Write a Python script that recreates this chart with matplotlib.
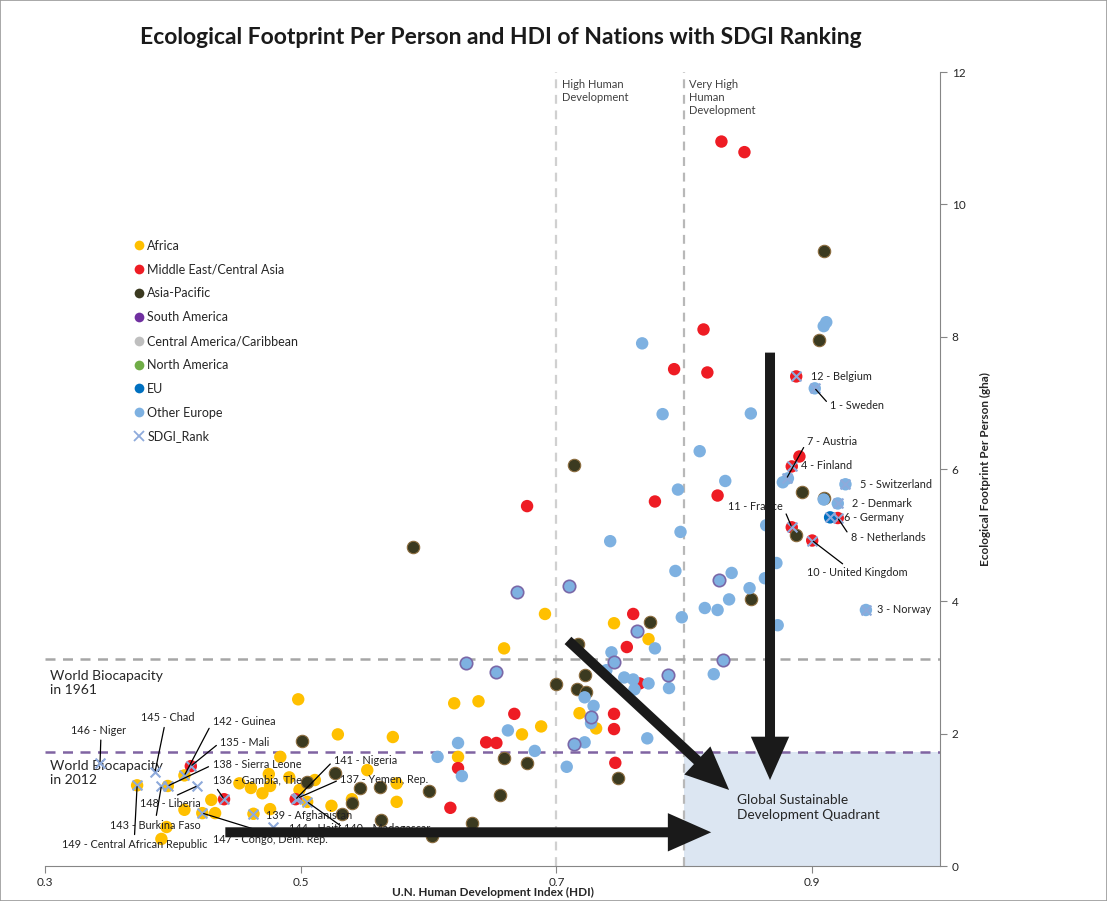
import matplotlib.pyplot as plt
from matplotlib.lines import Line2D
from matplotlib.patches import Rectangle

plt.rcParams['font.family'] = ['Lato', 'DejaVu Sans']

# ---- data (HDI, footprint in gha) ----
africa_hdi = [0.691, 0.659, 0.745, 0.772, 0.620, 0.639, 0.718, 0.688, 0.673, 0.731,
              0.498, 0.529, 0.572, 0.484, 0.552, 0.623, 0.475, 0.491, 0.452, 0.461,
              0.476, 0.470, 0.499, 0.511, 0.575, 0.540, 0.430, 0.524, 0.575, 0.476,
              0.433, 0.409, 0.395, 0.391,
              0.372, 0.409, 0.396, 0.423, 0.463, 0.505]
africa_ef = [3.81, 3.29, 3.67, 3.43, 2.46, 2.49, 2.31, 2.11, 1.99, 2.08,
             2.52, 1.99, 1.95, 1.65, 1.45, 1.65, 1.39, 1.34, 1.25, 1.18,
             1.21, 1.10, 1.15, 1.30, 1.25, 1.01, 1.00, 0.91, 0.97, 0.86,
             0.80, 0.85, 0.59, 0.41,
             1.22, 1.37, 1.21, 0.80, 0.79, 0.97]

mideast_hdi = [0.829, 0.847, 0.815, 0.792, 0.818, 0.890, 0.677, 0.777, 0.826, 0.760,
               0.755, 0.765, 0.745, 0.745, 0.667, 0.645, 0.653, 0.746, 0.617, 0.623,
               0.8875, 0.884, 0.920, 0.884, 0.900, 0.414, 0.440, 0.496]
mideast_ef = [10.95, 10.79, 8.11, 7.51, 7.46, 6.19, 5.44, 5.51, 5.60, 3.81,
              3.31, 2.76, 2.30, 2.07, 2.30, 1.87, 1.86, 1.56, 0.88, 1.48,
              7.40, 6.04, 5.26, 5.12, 4.92, 1.51, 1.01, 1.01]

asia_hdi = [0.909, 0.905, 0.892, 0.909, 0.887, 0.852, 0.714, 0.588, 0.773, 0.717,
            0.700, 0.722, 0.716, 0.723, 0.659, 0.677, 0.748, 0.501, 0.527, 0.505,
            0.546, 0.562, 0.600, 0.540, 0.532, 0.563, 0.603, 0.634, 0.656]
asia_ef = [9.29, 7.95, 5.66, 5.57, 5.00, 4.03, 6.06, 4.82, 3.69, 3.35,
           2.75, 2.89, 2.67, 2.63, 1.63, 1.56, 1.33, 1.89, 1.40, 1.27,
           1.18, 1.19, 1.13, 0.95, 0.79, 0.69, 0.45, 0.65, 1.07]

eu_hdi = [0.914]
eu_ef = [5.27]

europe_hdi = [0.767, 0.909, 0.911, 0.783, 0.852, 0.812, 0.832, 0.877, 0.881, 0.909,
              0.795, 0.742, 0.797, 0.864, 0.872, 0.837, 0.863, 0.851, 0.835, 0.816,
              0.826, 0.798, 0.873, 0.793, 0.777, 0.743, 0.739, 0.753, 0.760, 0.761,
              0.772, 0.788, 0.823, 0.722, 0.729, 0.727, 0.771, 0.722, 0.683, 0.662,
              0.708, 0.623, 0.607, 0.626,
              0.902, 0.926, 0.920, 0.942]
europe_ef = [7.90, 8.16, 8.22, 6.83, 6.84, 6.27, 5.82, 5.80, 5.86, 5.54,
             5.69, 4.91, 5.05, 5.15, 4.58, 4.43, 4.35, 4.20, 4.03, 3.90,
             3.87, 3.76, 3.64, 4.46, 3.29, 3.23, 2.96, 2.85, 2.82, 2.67,
             2.76, 2.69, 2.90, 2.55, 2.42, 2.16, 1.93, 1.87, 1.74, 2.05,
             1.50, 1.86, 1.65, 1.36,
             7.22, 5.77, 5.48, 3.87]

# light blue points drawn with a purple outline
outlined_hdi = [0.827, 0.710, 0.669, 0.763, 0.745, 0.830, 0.653, 0.629, 0.787, 0.727, 0.714]
outlined_ef = [4.32, 4.23, 4.14, 3.55, 3.08, 3.11, 2.93, 3.07, 2.89, 2.25, 1.84]

sdgi_names = ['12 - Belgium', '1 - Sweden', '7 - Austria', '4 - Finland', '5 - Switzerland',
              '2 - Denmark', '6 - Germany', '8 - Netherlands', '11 - France',
              '10 - United Kingdom', '3 - Norway',
              '146 - Niger', '145 - Chad', '142 - Guinea', '135 - Mali', '138 - Sierra Leone',
              '136 - Gambia, The', '148 - Liberia', '143 - Burkina Faso',
              '149 - Central African Republic', '141 - Nigeria', '137 - Yemen, Rep.',
              '139 - Afghanistan', '144 - Haiti', '140 - Madagascar', '147 - Congo, Dem. Rep.']
sdgi_hdi = [0.8875, 0.902, 0.880, 0.884, 0.926, 0.920, 0.914, 0.920, 0.884, 0.900, 0.942,
            0.343, 0.386, 0.409, 0.414, 0.396, 0.440, 0.419, 0.391, 0.372, 0.496, 0.498,
            0.463, 0.478, 0.505, 0.423]
sdgi_ef = [7.40, 7.22, 5.86, 6.04, 5.77, 5.48, 5.27, 5.26, 5.12, 4.92, 3.87,
           1.56, 1.42, 1.37, 1.51, 1.21, 1.01, 1.21, 1.21, 1.22, 1.01, 1.03,
           0.79, 0.59, 0.97, 0.80]

# where each label text sits (x, y, ha, relpos of the leader line)
label_pos = {
    '12 - Belgium': (0.899, 7.40, 'left', None),
    '1 - Sweden': (0.914, 6.96, 'left', (0, 0.5)),
    '7 - Austria': (0.896, 6.42, 'left', (0, 0.5)),
    '4 - Finland': (0.891, 6.06, 'left', None),
    '5 - Switzerland': (0.937, 5.76, 'left', None),
    '2 - Denmark': (0.931, 5.48, 'left', None),
    '6 - Germany': (0.925, 5.27, 'left', None),
    '8 - Netherlands': (0.930, 4.97, 'left', (0, 0.5)),
    '11 - France': (0.877, 5.44, 'right', (1, 0.5)),
    '10 - United Kingdom': (0.896, 4.43, 'left', (0.4, 1)),
    '3 - Norway': (0.951, 3.87, 'left', None),
    '146 - Niger': (0.320, 2.05, 'left', (0.55, 0)),
    '145 - Chad': (0.375, 2.24, 'left', (0.45, 0)),
    '142 - Guinea': (0.431, 2.18, 'left', (0, 0.5)),
    '135 - Mali': (0.437, 1.87, 'left', (0, 0.5)),
    '138 - Sierra Leone': (0.431, 1.53, 'left', (0, 0.5)),
    '136 - Gambia, The': (0.431, 1.30, 'left', (0, 0.3)),
    '148 - Liberia': (0.374, 0.94, 'left', (0.5, 1)),
    '143 - Burkina Faso': (0.351, 0.62, 'left', (0.5, 1)),
    '149 - Central African Republic': (0.313, 0.33, 'left', (0.5, 1)),
    '141 - Nigeria': (0.526, 1.60, 'left', (0, 0.5)),
    '137 - Yemen, Rep.': (0.531, 1.31, 'left', (0, 0.5)),
    '139 - Afghanistan': (0.473, 0.77, 'left', None),
    '144 - Haiti': (0.491, 0.57, 'left', None),
    '140 - Madagascar': (0.534, 0.57, 'left', (0, 0.5)),
    '147 - Congo, Dem. Rep.': (0.431, 0.40, 'left', (0.5, 1)),
}

biocap_1961 = 3.13
biocap_2012 = 1.72
high_hdi = 0.7
very_high_hdi = 0.8

fig = plt.figure(figsize=(11.07, 9.01), dpi=100)
ax = fig.add_axes([0.0407, 0.0388, 0.8085, 0.8812])
fig.patches.append(Rectangle((0, 0), 1, 1, transform=fig.transFigure, fill=False,
                             edgecolor='#9a9a9a', lw=1.2))

ax.set_xlim(0.3, 1.0)
ax.set_ylim(0, 12)

# sustainable quadrant and reference lines
ax.add_patch(Rectangle((very_high_hdi, 0), 1.0 - very_high_hdi, biocap_2012,
                       facecolor='#dce6f2', edgecolor='none', zorder=0))
ax.axvline(high_hdi, color='#d0d0d0', ls=(0, (4, 3)), lw=1.6, zorder=1)
ax.axvline(very_high_hdi, color='#b8b8b8', ls=(0, (4, 3)), lw=1.6, zorder=1)
ax.axhline(biocap_1961, color='#a6a6a6', ls=(0, (4, 3)), lw=1.8, zorder=1)
ax.axhline(biocap_2012, color='#8064a2', ls=(0, (4, 3)), lw=1.8, zorder=1)

ms = 80
ax.scatter(africa_hdi, africa_ef, s=ms, c='#ffc000', edgecolors='none', zorder=3)
ax.scatter(mideast_hdi, mideast_ef, s=ms, c='#ee1c24', edgecolors='none', zorder=3)
ax.scatter(asia_hdi, asia_ef, s=ms, c='#3b3a20', edgecolors='#8c6d3f', linewidths=0.8, zorder=3)
ax.scatter(europe_hdi, europe_ef, s=ms, c='#7eb1e1', edgecolors='none', zorder=3)
ax.scatter(outlined_hdi, outlined_ef, s=ms, c='#7eb1e1', edgecolors='#7a68a8', linewidths=1.2, zorder=3)
ax.scatter(eu_hdi, eu_ef, s=ms, c='#0070c0', edgecolors='none', zorder=3)
ax.scatter(sdgi_hdi, sdgi_ef, s=50, marker='x', c='#8eaadb', linewidths=1.5, zorder=4)

for name, px, py in zip(sdgi_names, sdgi_hdi, sdgi_ef):
    tx, ty, ha, rel = label_pos[name]
    if rel is None:
        ax.text(tx, ty, name, fontsize=7.8, ha=ha, va='center', color='#222222', zorder=5)
    else:
        ax.annotate(name, xy=(px, py), xytext=(tx, ty), fontsize=7.8, ha=ha, va='center',
                    color='#222222', zorder=5,
                    arrowprops=dict(arrowstyle='-', color='black', lw=0.9,
                                    shrinkA=1, shrinkB=1, relpos=rel))

# annotations
ax.text(0.304, 2.76, 'World Biocapacity\nin 1961', fontsize=10, va='center', color='#262626')
ax.text(0.304, 1.40, 'World Biocapacity\nin 2012', fontsize=10, va='center', color='#262626')
ax.text(0.704, 11.9, 'High Human\nDevelopment', fontsize=8, va='top', color='#404040',
        linespacing=1.25)
ax.text(0.804, 11.9, 'Very High\nHuman\nDevelopment', fontsize=8, va='top', color='#404040',
        linespacing=1.25)
ax.text(0.841, 0.88, 'Global Sustainable\nDevelopment Quadrant', fontsize=9.8, va='center',
        color='#262626', linespacing=1.3, zorder=5)

arrow = dict(arrowstyle='simple,head_length=1.3,head_width=1.15,tail_width=0.3',
             mutation_scale=24, fc='#1a1a1a', ec='none', shrinkA=0, shrinkB=0)
ax.annotate('', xy=(0.867, 1.30), xytext=(0.867, 7.76), arrowprops=arrow, zorder=6)
ax.annotate('', xy=(0.835, 1.15), xytext=(0.709, 3.41), arrowprops=arrow, zorder=6)
ax.annotate('', xy=(0.821, 0.51), xytext=(0.441, 0.51), arrowprops=arrow, zorder=6)

# axes styling
ax.spines['left'].set_visible(False)
ax.spines['top'].set_visible(False)
ax.spines['bottom'].set_color('#868686')
ax.spines['right'].set_color('#868686')
ax.set_xticks([0.3, 0.5, 0.7, 0.9])
ax.set_xticklabels(['0.3', '0.5', '0.7', '0.9'])
ax.set_yticks(range(0, 13, 2))
ax.yaxis.tick_right()
ax.yaxis.set_label_position('right')
ax.tick_params(axis='both', colors='#868686', labelcolor='#262626', labelsize=8.5, length=5)
ax.tick_params(axis='x', pad=3)
ax.set_xlabel('U.N. Human Development Index (HDI)', fontsize=8.5, fontweight='bold',
              color='#262626', labelpad=-1)
ax.set_ylabel('Ecological Footprint Per Person (gha)', fontsize=8.5, fontweight='bold',
              color='#262626', labelpad=10)
fig.suptitle('Ecological Footprint Per Person and HDI of Nations with SDGI Ranking',
             x=0.452, y=0.97, fontsize=16.5, fontweight='bold', color='#1a1a1a')

legend_items = [('Africa', '#ffc000'), ('Middle East/Central Asia', '#ee1c24'),
                ('Asia-Pacific', '#3b3a20'), ('South America', '#7030a0'),
                ('Central America/Caribbean', '#bfbfbf'), ('North America', '#70ad47'),
                ('EU', '#0070c0'), ('Other Europe', '#7eb1e1')]
handles = [Line2D([], [], ls='', marker='o', markersize=7, color=c, markeredgecolor='none',
                  label=lab) for lab, c in legend_items]
handles.append(Line2D([], [], ls='', marker='x', markersize=7, color='#8eaadb',
                      markeredgewidth=1.3, label='SDGI_Rank'))
ax.legend(handles=handles, loc='upper left', bbox_to_anchor=(0.094, 0.797), frameon=False,
          fontsize=9, labelspacing=0.95, handlelength=0.6, handletextpad=0.35,
          borderpad=0, labelcolor='#262626')

fig.savefig('out.png', dpi=100)
